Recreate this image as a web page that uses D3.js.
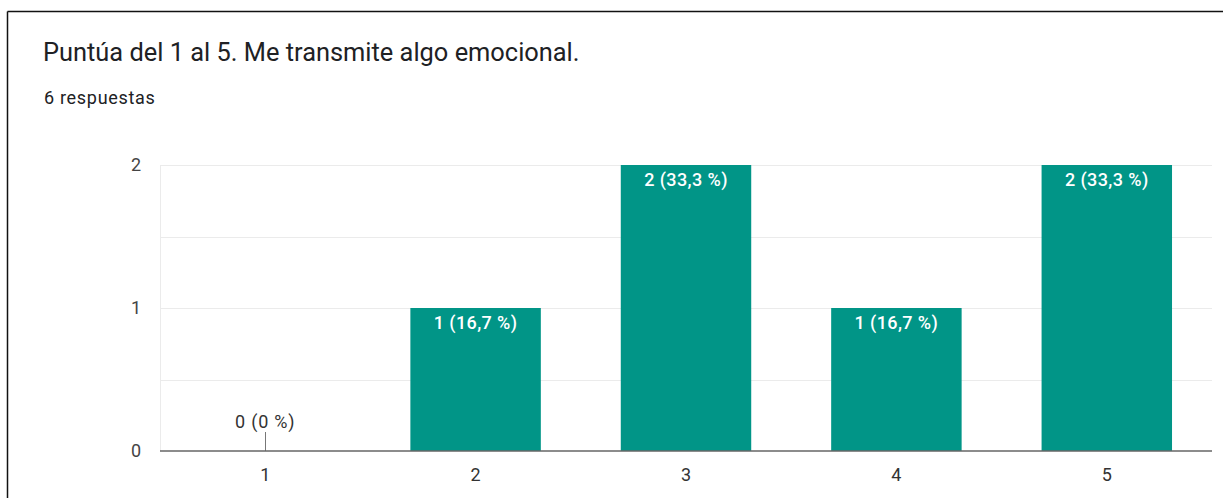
<!DOCTYPE html>
<html>
<head>
<meta charset="utf-8">
<script src="https://cdn.jsdelivr.net/npm/d3@7"></script>
<style>
  html, body { margin: 0; padding: 0; background: #fff; }
  svg { display: block; font-family: Roboto, "Noto Sans", Arial, sans-serif; }
</style>
</head>
<body>
<svg id="chart" width="1223" height="498"></svg>
<script>
// Survey results: rating 1–5
const categories = ["1", "2", "3", "4", "5"];
const counts = [0, 1, 2, 1, 2];
const percentLabels = ["0 %", "16,7 %", "33,3 %", "16,7 %", "33,3 %"];
const yTicks = [0, 1, 2];
const yGridTicks = [0.5, 1, 1.5, 2];

const title = "Puntúa del 1 al 5. Me transmite algo emocional.";
const subtitle = "6 respuestas";

const svg = d3.select("#chart");
const W = 1223, H = 498;
const margin = { left: 160, right: 11, top: 165, bottom: 47 };

svg.append("rect").attr("width", W).attr("height", H).attr("fill", "#fff");

// frame lines (top and left)
svg.append("line").attr("x1", 7.5).attr("x2", W).attr("y1", 11.5).attr("y2", 11.5)
  .attr("stroke", "#111").attr("stroke-width", 1.5);
svg.append("line").attr("x1", 7.5).attr("x2", 7.5).attr("y1", 11.5).attr("y2", H)
  .attr("stroke", "#111").attr("stroke-width", 1.5);

svg.append("text").attr("x", 43).attr("y", 61)
  .attr("font-size", 25.4).attr("fill", "#202124").text(title);
svg.append("text").attr("x", 44).attr("y", 104)
  .attr("font-size", 18).attr("letter-spacing", 0.7).attr("fill", "#202124").text(subtitle);

const x = d3.scaleBand()
  .domain(categories)
  .range([margin.left, W - margin.right])
  .paddingInner(0.38).paddingOuter(0.19);

const y = d3.scaleLinear()
  .domain([0, 2])
  .range([H - margin.bottom, margin.top]);

// gridlines
svg.append("g").selectAll("line").data(yGridTicks).join("line")
  .attr("x1", margin.left).attr("x2", W - margin.right)
  .attr("y1", d => Math.round(y(d)) + 0.5).attr("y2", d => Math.round(y(d)) + 0.5)
  .attr("stroke", "#ebebeb").attr("stroke-width", 1);
svg.append("line")
  .attr("x1", margin.left + 0.5).attr("x2", margin.left + 0.5)
  .attr("y1", y(2)).attr("y2", y(0))
  .attr("stroke", "#ebebeb");

// y tick labels
svg.append("g").selectAll("text").data(yTicks).join("text")
  .attr("x", 141).attr("y", d => y(d))
  .attr("dy", "0.35em").attr("text-anchor", "end")
  .attr("font-size", 18).attr("fill", "#444")
  .text(d => d);

const data = categories.map((c, i) => ({ c, v: counts[i], p: percentLabels[i] }));

// bars
svg.append("g").selectAll("rect").data(data.filter(d => d.v > 0)).join("rect")
  .attr("x", d => x(d.c)).attr("width", x.bandwidth())
  .attr("y", d => y(d.v)).attr("height", d => y(0) - y(d.v))
  .attr("fill", "#019587");

// value labels
svg.append("g").selectAll("text").data(data).join("text")
  .attr("x", d => x(d.c) + x.bandwidth() / 2)
  .attr("y", d => d.v > 0 ? y(d.v) + 21 : y(0) - 23)
  .attr("text-anchor", "middle")
  .attr("font-size", 18)
  .attr("letter-spacing", d => d.v > 0 ? 0.4 : 0.8)
  .attr("font-weight", d => d.v > 0 ? 500 : 400)
  .attr("fill", d => d.v > 0 ? "#fff" : "#333")
  .text(d => `${d.v} (${d.p})`);

// zero-value marker
svg.append("g").selectAll("line").data(data.filter(d => d.v === 0)).join("line")
  .attr("x1", d => Math.round(x(d.c) + x.bandwidth() / 2) + 0.5)
  .attr("x2", d => Math.round(x(d.c) + x.bandwidth() / 2) + 0.5)
  .attr("y1", y(0) - 19).attr("y2", y(0))
  .attr("stroke", "#777");

// baseline
svg.append("line")
  .attr("x1", margin.left).attr("x2", W - margin.right)
  .attr("y1", y(0)).attr("y2", y(0))
  .attr("stroke", "#666").attr("stroke-width", 1.5);

// x tick labels
svg.append("g").selectAll("text").data(categories).join("text")
  .attr("x", d => x(d) + x.bandwidth() / 2).attr("y", 481)
  .attr("text-anchor", "middle")
  .attr("font-size", 18).attr("fill", "#333")
  .text(d => d);
</script>
</body>
</html>
